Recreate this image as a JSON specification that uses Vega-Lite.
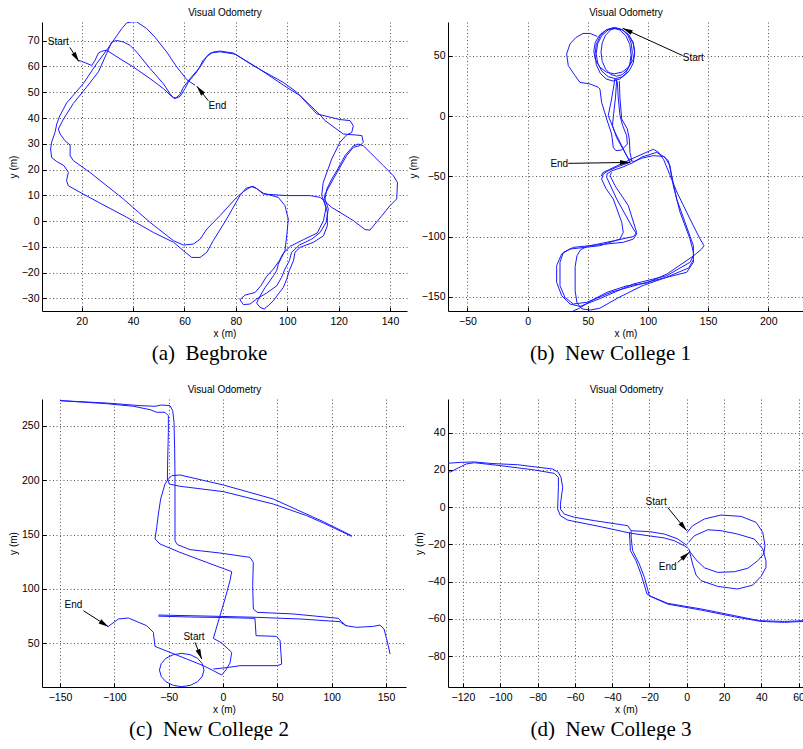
{
"$schema":"https://vega.github.io/schema/vega-lite/v6.json",
"background":"white",
"padding":{"left":8,"top":7,"right":0,"bottom":0},
"config":{
"font":"Liberation Sans",
"view":{"stroke":null},
"axis":{"labelFont":"Liberation Sans","labelFontSize":10.5,"labelColor":"#000","titleFont":"Liberation Sans","titleFontSize":10,"titleFontWeight":"normal","titleColor":"#000","domainColor":"#000","tickColor":"#000","tickSize":-4,"gridColor":"#555","gridDash":[1,2.5],"gridOpacity":1,"gridWidth":1},
"axisX":{"labelPadding":9,"titlePadding":2},
"axisY":{"labelPadding":7,"titlePadding":3},
"title":{"font":"Liberation Serif","fontSize":21,"fontWeight":"normal","color":"#000","frame":"group","dx":-15}
},
"datasets":{
"a_path":[
{"s":1,"x":18.7,"y":62.4},{"s":1,"x":20,"y":62},{"s":1,"x":23.9,"y":60.4},{"s":1,"x":25.2,"y":62.4},{"s":1,"x":26.5,"y":65.2},{"s":1,"x":27.8,"y":65.9},{"s":1,"x":29.7,"y":66.3},{"s":1,"x":34.9,"y":63},{"s":1,"x":40.1,"y":59.8},{"s":1,"x":46.6,"y":55.3},{"s":1,"x":51.8,"y":51.4},{"s":1,"x":55,"y":48.4},{"s":1,"x":56.3,"y":47.5},{"s":1,"x":58.3,"y":49.2},{"s":1,"x":59.6,"y":52},{"s":1,"x":62.2,"y":55.3},{"s":1,"x":66.1,"y":59.8},{"s":1,"x":68.7,"y":63.9},{"s":1,"x":71.2,"y":65.6},{"s":1,"x":73.8,"y":66},{"s":1,"x":79,"y":65.2},{"s":1,"x":86.8,"y":60.3},{"s":1,"x":98.5,"y":53.8},{"s":1,"x":103.7,"y":50},{"s":1,"x":111.5,"y":41.6},{"s":1,"x":120.5,"y":39.4},{"s":1,"x":124.4,"y":39},{"s":1,"x":125.7,"y":37},{"s":1,"x":125.1,"y":34.4},{"s":1,"x":123.1,"y":33.4},{"s":1,"x":120.5,"y":30.6},{"s":1,"x":117.3,"y":24.1},{"s":1,"x":114,"y":15},{"s":1,"x":113.4,"y":9.9},{"s":1,"x":115.1,"y":5.3},{"s":1,"x":114.1,"y":0.2},{"s":1,"x":111.7,"y":-4.6},{"s":1,"x":106.3,"y":-7.2},{"s":1,"x":101.1,"y":-9.8},{"s":1,"x":98.2,"y":-12.8},{"s":1,"x":96.9,"y":-15.4},{"s":1,"x":94.6,"y":-18.6},{"s":1,"x":92,"y":-21.4},{"s":1,"x":89.7,"y":-25.1},{"s":1,"x":87.5,"y":-27.7},{"s":1,"x":83.6,"y":-28.7},{"s":1,"x":81.6,"y":-30.5},{"s":1,"x":82.9,"y":-32.4},{"s":1,"x":85.5,"y":-32.2},{"s":1,"x":88.1,"y":-30.2},{"s":1,"x":92,"y":-27.9},{"s":1,"x":95.9,"y":-25.1},{"s":1,"x":97.8,"y":-21.8},{"s":1,"x":99.1,"y":-18.6},{"s":1,"x":100.8,"y":-15.4},{"s":1,"x":101.7,"y":-12.1},{"s":1,"x":104.7,"y":-9.3},{"s":1,"x":109.5,"y":-7},{"s":1,"x":112.8,"y":-4.4},{"s":1,"x":115.1,"y":-0.5},{"s":1,"x":116,"y":4.7},{"s":1,"x":114.7,"y":8.6},{"s":1,"x":115.4,"y":12.4},{"s":1,"x":117.3,"y":16.3},{"s":1,"x":119.3,"y":19.6},{"s":1,"x":122.5,"y":25.4},{"s":1,"x":125.7,"y":29.2},{"s":1,"x":127.7,"y":29.9},{"s":1,"x":129.6,"y":29.2},{"s":1,"x":132.2,"y":26.7},{"s":1,"x":137.4,"y":21.5},{"s":1,"x":141.3,"y":17.6},{"s":1,"x":142.9,"y":15},{"s":1,"x":142.6,"y":8.6},{"s":1,"x":140,"y":6},{"s":1,"x":136.8,"y":2.1},{"s":1,"x":132.2,"y":-3.5},{"s":1,"x":130.3,"y":-3.3},{"s":1,"x":125.7,"y":0.2},{"s":1,"x":120.5,"y":3.4},{"s":1,"x":117.3,"y":5.3},{"s":1,"x":112.8,"y":9.2},{"s":1,"x":108.9,"y":9.9},{"s":1,"x":99.8,"y":9.9},{"s":1,"x":90.7,"y":10.5},{"s":1,"x":88.5,"y":12.3},{"s":1,"x":86.8,"y":13.5},{"s":1,"x":84,"y":12.8},{"s":1,"x":81.6,"y":9.9},{"s":1,"x":76.4,"y":0.8},{"s":1,"x":71.2,"y":-7.6},{"s":1,"x":68.7,"y":-12.1},{"s":1,"x":66.1,"y":-14.1},{"s":1,"x":62.8,"y":-14.1},{"s":1,"x":59.6,"y":-11.5},{"s":1,"x":55.7,"y":-8.2},{"s":1,"x":47.9,"y":-4.4},{"s":1,"x":37.5,"y":1.5},{"s":1,"x":27.1,"y":7},{"s":1,"x":19.3,"y":11.2},{"s":1,"x":14.8,"y":13.7},{"s":1,"x":14.1,"y":15.7},{"s":1,"x":14.8,"y":18.9},{"s":1,"x":13.1,"y":21.5},{"s":1,"x":10.3,"y":23.1},{"s":1,"x":8.3,"y":24.7},{"s":1,"x":7.9,"y":28},{"s":1,"x":8.3,"y":30.6},{"s":1,"x":9.6,"y":34.4},{"s":1,"x":10.3,"y":37.7},{"s":1,"x":11.5,"y":40.9},{"s":1,"x":12.9,"y":43.5},{"s":1,"x":14.1,"y":45.8},{"s":1,"x":20.6,"y":53.3},{"s":1,"x":25.8,"y":61.1},{"s":1,"x":29.7,"y":66.3},{"s":1,"x":35.6,"y":74.7},{"s":1,"x":37.5,"y":76.9},{"s":1,"x":39.5,"y":77.3},{"s":1,"x":41.4,"y":77.3},{"s":1,"x":45.3,"y":74.7},{"s":1,"x":48.5,"y":71.4},{"s":1,"x":53.1,"y":65.6},{"s":1,"x":57,"y":59.8},{"s":1,"x":60.9,"y":54.9},{"s":1,"x":64.1,"y":52.7},
{"s":2,"x":70,"y":65.2},{"s":2,"x":73.8,"y":65.7},{"s":2,"x":79.7,"y":64.8},{"s":2,"x":88.1,"y":59.7},{"s":2,"x":99.8,"y":51.9},{"s":2,"x":105,"y":48.7},{"s":2,"x":112.8,"y":41.2},{"s":2,"x":114.7,"y":39},{"s":2,"x":121.8,"y":33.8},{"s":2,"x":129,"y":33.2},{"s":2,"x":129.6,"y":30.6},{"s":2,"x":128.3,"y":29.3},{"s":2,"x":125.7,"y":28.6},{"s":2,"x":123.1,"y":25.4},{"s":2,"x":117.9,"y":16.3},{"s":2,"x":114.7,"y":10.5},{"s":2,"x":114.3,"y":7.9},{"s":2,"x":115.6,"y":3.4},{"s":2,"x":115.6,"y":-1.8},{"s":2,"x":114.1,"y":-5.7},{"s":2,"x":110.2,"y":-8.2},{"s":2,"x":105,"y":-10.2},{"s":2,"x":103,"y":-12.1},{"s":2,"x":102.4,"y":-15.4},{"s":2,"x":100.8,"y":-19.2},{"s":2,"x":99.8,"y":-22.5},{"s":2,"x":98.5,"y":-25.7},{"s":2,"x":96.5,"y":-28.3},{"s":2,"x":94.6,"y":-30.9},{"s":2,"x":92.6,"y":-32.8},{"s":2,"x":91,"y":-34.1},{"s":2,"x":89.4,"y":-33.5},{"s":2,"x":88.1,"y":-31.8},{"s":2,"x":88.8,"y":-30.2},{"s":2,"x":90.1,"y":-27.9},{"s":2,"x":91.4,"y":-25.7},{"s":2,"x":93.3,"y":-23.1},{"s":2,"x":94.6,"y":-21.2},{"s":2,"x":95.9,"y":-19.2},{"s":2,"x":96.5,"y":-16.7},{"s":2,"x":97.8,"y":-14.1},{"s":2,"x":99.1,"y":-11.5},{"s":2,"x":99.8,"y":-5.7},{"s":2,"x":100.4,"y":0.8},{"s":2,"x":99.1,"y":6},{"s":2,"x":96.5,"y":9.2},{"s":2,"x":90.7,"y":10.8},{"s":2,"x":88.1,"y":12.6},{"s":2,"x":86,"y":13.4},{"s":2,"x":83,"y":11.5},{"s":2,"x":80.3,"y":9.2},{"s":2,"x":73.8,"y":2.1},{"s":2,"x":68.7,"y":-3.1},{"s":2,"x":66.1,"y":-7},{"s":2,"x":63.5,"y":-8.9},{"s":2,"x":59.6,"y":-9.3},{"s":2,"x":55.7,"y":-7.6},{"s":2,"x":46.6,"y":-0.5},{"s":2,"x":36.2,"y":8.6},{"s":2,"x":23.2,"y":18.9},{"s":2,"x":16.7,"y":23.5},{"s":2,"x":15.5,"y":25.4},{"s":2,"x":15.5,"y":29.5},{"s":2,"x":13.5,"y":31.2},{"s":2,"x":11.6,"y":33.8},{"s":2,"x":10.9,"y":35.7},{"s":2,"x":12.9,"y":39.6},{"s":2,"x":15.4,"y":43.5},{"s":2,"x":16.7,"y":45.6},{"s":2,"x":21.9,"y":52},{"s":2,"x":26.5,"y":57.9},{"s":2,"x":29.7,"y":65},{"s":2,"x":31.7,"y":69.5},{"s":2,"x":33.6,"y":70.1},{"s":2,"x":36.2,"y":69.5},{"s":2,"x":38.8,"y":68.2},{"s":2,"x":41.4,"y":65.6},{"s":2,"x":46.6,"y":59.2},{"s":2,"x":51.8,"y":53.3},{"s":2,"x":54.4,"y":49.4},{"s":2,"x":55.7,"y":47.9},{"s":2,"x":57,"y":47.8},{"s":2,"x":58.3,"y":48.4},{"s":2,"x":60.2,"y":51.4},{"s":2,"x":61.5,"y":54},{"s":2,"x":64.8,"y":57.9},{"s":2,"x":67.3,"y":62.4},{"s":2,"x":70,"y":65.2}
],
"b_path":[
{"s":1,"x":89,"y":52},{"s":1,"x":87.8,"y":60},{"s":1,"x":84.3,"y":66.8},{"s":1,"x":79.1,"y":71.4},{"s":1,"x":73,"y":73},{"s":1,"x":66.9,"y":71.4},{"s":1,"x":61.7,"y":66.8},{"s":1,"x":58.2,"y":60},{"s":1,"x":57,"y":52},{"s":1,"x":58.2,"y":44},{"s":1,"x":61.7,"y":37.2},{"s":1,"x":66.9,"y":32.6},{"s":1,"x":73,"y":31},{"s":1,"x":79.1,"y":32.6},{"s":1,"x":84.3,"y":37.2},{"s":1,"x":87.8,"y":44},{"s":1,"x":89,"y":52},
{"s":2,"x":87,"y":53},{"s":2,"x":86,"y":60.7},{"s":2,"x":83.2,"y":67.1},{"s":2,"x":79,"y":71.5},{"s":2,"x":74,"y":73},{"s":2,"x":69,"y":71.5},{"s":2,"x":64.8,"y":67.1},{"s":2,"x":62,"y":60.7},{"s":2,"x":61,"y":53},{"s":2,"x":62,"y":45.3},{"s":2,"x":64.8,"y":38.9},{"s":2,"x":69,"y":34.5},{"s":2,"x":74,"y":33},{"s":2,"x":79,"y":34.5},{"s":2,"x":83.2,"y":38.9},{"s":2,"x":86,"y":45.3},{"s":2,"x":87,"y":53},
{"s":3,"x":89,"y":54},{"s":3,"x":87.7,"y":61.3},{"s":3,"x":84,"y":67.4},{"s":3,"x":78.5,"y":71.6},{"s":3,"x":72,"y":73.5},{"s":3,"x":65.5,"y":71.6},{"s":3,"x":60,"y":67.4},{"s":3,"x":56.3,"y":61.3},{"s":3,"x":55,"y":54},{"s":3,"x":56.3,"y":46.7},{"s":3,"x":60,"y":40.6},{"s":3,"x":65.5,"y":36.4},{"s":3,"x":72,"y":35},{"s":3,"x":78.5,"y":36.4},{"s":3,"x":84,"y":40.6},{"s":3,"x":87.7,"y":46.7},{"s":3,"x":89,"y":54},
{"s":4,"x":86,"y":51},{"s":4,"x":84.9,"y":59.4},{"s":4,"x":81.6,"y":66.6},{"s":4,"x":76.7,"y":71.3},{"s":4,"x":71,"y":73},{"s":4,"x":65.3,"y":71.3},{"s":4,"x":60.4,"y":66.6},{"s":4,"x":57.1,"y":59.4},{"s":4,"x":56,"y":51},{"s":4,"x":57.1,"y":42.6},{"s":4,"x":60.4,"y":35.4},{"s":4,"x":65.3,"y":30.7},{"s":4,"x":71,"y":29},{"s":4,"x":76.7,"y":30.7},{"s":4,"x":81.6,"y":35.4},{"s":4,"x":84.9,"y":42.6},{"s":4,"x":86,"y":51},
{"s":5,"x":58,"y":66},{"s":5,"x":52,"y":68.5},{"s":5,"x":46,"y":68.5},{"s":5,"x":40,"y":65},{"s":5,"x":35.2,"y":59.8},{"s":5,"x":32.4,"y":51.5},{"s":5,"x":33.8,"y":41.8},{"s":5,"x":39.4,"y":33.5},{"s":5,"x":43.5,"y":27.9},{"s":5,"x":51.8,"y":26.6},{"s":5,"x":58.8,"y":23.8},{"s":5,"x":60.1,"y":22.4},{"s":5,"x":61.5,"y":11.3},{"s":5,"x":65.7,"y":-2.5},{"s":5,"x":69.8,"y":-14.9},{"s":5,"x":71.2,"y":-26},{"s":5,"x":73.4,"y":-28.8},{"s":5,"x":78.2,"y":-28.2},{"s":5,"x":82.9,"y":-23.2},{"s":5,"x":82.3,"y":-16.3},{"s":5,"x":79,"y":-8},{"s":5,"x":76.8,"y":0.3},{"s":5,"x":75.4,"y":14.1},{"s":5,"x":74.6,"y":27.9},{"s":5,"x":73,"y":31},
{"s":6,"x":76.2,"y":29},{"s":6,"x":76.8,"y":14.1},{"s":6,"x":78.2,"y":-2.5},{"s":6,"x":82.9,"y":-10.8},{"s":6,"x":84.5,"y":-19.1},{"s":6,"x":85.1,"y":-30.2},{"s":6,"x":86.5,"y":-37.1},{"s":6,"x":85.1,"y":-38.5},
{"s":7,"x":72.6,"y":31},{"s":7,"x":69.8,"y":14.1},{"s":7,"x":67,"y":0.3},{"s":7,"x":72.6,"y":-13.5},{"s":7,"x":78.2,"y":-24.6},{"s":7,"x":82.3,"y":-32.9},{"s":7,"x":85.1,"y":-38.5},
{"s":8,"x":74,"y":30},{"s":8,"x":73,"y":15},{"s":8,"x":71.5,"y":2},{"s":8,"x":70.5,"y":-8},{"s":8,"x":74,"y":-18},{"s":8,"x":79,"y":-27},{"s":8,"x":83.5,"y":-35},{"s":8,"x":88,"y":-38},
{"s":9,"x":85.1,"y":-38.5},{"s":9,"x":75,"y":-42},{"s":9,"x":67,"y":-45.5},{"s":9,"x":62.9,"y":-48.1},{"s":9,"x":61.5,"y":-52.3},{"s":9,"x":65,"y":-60},{"s":9,"x":71.2,"y":-68.9},{"s":9,"x":78.2,"y":-88.2},{"s":9,"x":79.5,"y":-96.5},{"s":9,"x":76.8,"y":-102.1},{"s":9,"x":60.1,"y":-107.6},{"s":9,"x":35.2,"y":-110.4},{"s":9,"x":28.3,"y":-114.5},{"s":9,"x":24.1,"y":-124.2},{"s":9,"x":24.1,"y":-138},{"s":9,"x":28.3,"y":-149.1},{"s":9,"x":35.2,"y":-156},{"s":9,"x":43.5,"y":-158},{"s":9,"x":60,"y":-151.5},{"s":9,"x":87.9,"y":-139.4},{"s":9,"x":115.6,"y":-132.5},{"s":9,"x":135,"y":-121.4},{"s":9,"x":137.8,"y":-115.9},{"s":9,"x":137.8,"y":-107.6},{"s":9,"x":123.9,"y":-68.9},{"s":9,"x":119.7,"y":-49.5},{"s":9,"x":117,"y":-37.1},{"s":9,"x":112.8,"y":-33.5},{"s":9,"x":104.5,"y":-32.9},{"s":9,"x":95,"y":-35},{"s":9,"x":87.9,"y":-37.9},
{"s":10,"x":87.9,"y":-38.5},{"s":10,"x":80,"y":-42},{"s":10,"x":70,"y":-45.5},{"s":10,"x":66,"y":-48},{"s":10,"x":65.7,"y":-50.9},{"s":10,"x":74,"y":-68.9},{"s":10,"x":87.9,"y":-93.8},{"s":10,"x":90.6,"y":-97.9},{"s":10,"x":87.9,"y":-102.1},{"s":10,"x":79.5,"y":-104.8},{"s":10,"x":38,"y":-109},{"s":10,"x":29.7,"y":-113.1},{"s":10,"x":26.9,"y":-121.4},{"s":10,"x":26.9,"y":-140.8},{"s":10,"x":31,"y":-150.5},{"s":10,"x":38,"y":-156},{"s":10,"x":49.1,"y":-154.6},{"s":10,"x":70,"y":-146},{"s":10,"x":98.9,"y":-138},{"s":10,"x":132.2,"y":-129.7},{"s":10,"x":137.8,"y":-121.4},{"s":10,"x":137.8,"y":-113.1},{"s":10,"x":135,"y":-102.1},{"s":10,"x":126.7,"y":-79.9},{"s":10,"x":121.1,"y":-57.8},{"s":10,"x":118.3,"y":-41.2},{"s":10,"x":114.2,"y":-34.3},{"s":10,"x":107.3,"y":-30.2},{"s":10,"x":95,"y":-34},{"s":10,"x":87.9,"y":-38.5},
{"s":11,"x":61,"y":-50},{"s":11,"x":62.5,"y":-47},{"s":11,"x":75,"y":-41},{"s":11,"x":90,"y":-34},{"s":11,"x":104.5,"y":-27.6},{"s":11,"x":108.7,"y":-30},{"s":11,"x":113,"y":-36},{"s":11,"x":124,"y":-63},{"s":11,"x":135,"y":-85.5},{"s":11,"x":143.3,"y":-102},{"s":11,"x":146.6,"y":-107.6},{"s":11,"x":144.6,"y":-110.4},{"s":11,"x":138,"y":-116},{"s":11,"x":116,"y":-131},{"s":11,"x":99,"y":-138.6},{"s":11,"x":82,"y":-141},{"s":11,"x":66,"y":-146.3},{"s":11,"x":55,"y":-152},{"s":11,"x":47,"y":-157},{"s":11,"x":42,"y":-160},{"s":11,"x":38,"y":-161.6},
{"s":12,"x":69.8,"y":-46.8},{"s":12,"x":68.5,"y":-49.5},{"s":12,"x":72.6,"y":-57.8},{"s":12,"x":83.7,"y":-74.4},{"s":12,"x":90.6,"y":-96.6},{"s":12,"x":88,"y":-100},{"s":12,"x":72,"y":-103.5},{"s":12,"x":50,"y":-108},{"s":12,"x":44,"y":-111},{"s":12,"x":41,"y":-116},{"s":12,"x":39.5,"y":-125},{"s":12,"x":39.5,"y":-145},{"s":12,"x":41,"y":-155},{"s":12,"x":45,"y":-160},{"s":12,"x":52,"y":-161},{"s":12,"x":60,"y":-159.5},{"s":12,"x":75,"y":-151},{"s":12,"x":95,"y":-141},{"s":12,"x":115,"y":-134},{"s":12,"x":134,"y":-126},{"s":12,"x":138,"y":-119}
],
"c_path":[
{"s":1,"x":-150,"y":273},{"s":1,"x":-107.1,"y":270.8},{"s":1,"x":-76.4,"y":268.4},{"s":1,"x":-62.6,"y":267.8},{"s":1,"x":-56.4,"y":269},{"s":1,"x":-48.8,"y":268.4},{"s":1,"x":-46.3,"y":263.8},{"s":1,"x":-45.1,"y":253.1},{"s":1,"x":-44.5,"y":228.6},{"s":1,"x":-44.2,"y":204.1},{"s":1,"x":-44.2,"y":173.4},{"s":1,"x":-44.2,"y":144.3},{"s":1,"x":-42,"y":140.7},{"s":1,"x":-30.4,"y":136.1},{"s":1,"x":-2.8,"y":133},{"s":1,"x":24.8,"y":129},{"s":1,"x":27.9,"y":124.4},{"s":1,"x":27.3,"y":103},{"s":1,"x":27.9,"y":81.5},{"s":1,"x":31.6,"y":78.5},{"s":1,"x":64.7,"y":77},{"s":1,"x":106.1,"y":73},{"s":1,"x":109.2,"y":69.9},{"s":1,"x":113.2,"y":66.2},{"s":1,"x":123,"y":64.7},{"s":1,"x":138.3,"y":65.6},{"s":1,"x":144.5,"y":66.8},{"s":1,"x":148.2,"y":63.2},{"s":1,"x":152.1,"y":47.9},{"s":1,"x":153.7,"y":40.2},
{"s":2,"x":-150,"y":273},{"s":2,"x":-107.1,"y":270.2},{"s":2,"x":-82.5,"y":267.8},{"s":2,"x":-67.2,"y":264.7},{"s":2,"x":-61,"y":262.3},{"s":2,"x":-53.4,"y":262.3},{"s":2,"x":-50.3,"y":259.2},{"s":2,"x":-50.3,"y":243.9},{"s":2,"x":-50.9,"y":219.4},{"s":2,"x":-51.2,"y":201},{"s":2,"x":-49.4,"y":196.4},{"s":2,"x":-39.6,"y":194.3},{"s":2,"x":0.3,"y":189.4},{"s":2,"x":46.3,"y":178},{"s":2,"x":77,"y":167.3},{"s":2,"x":92.3,"y":160.6},{"s":2,"x":118.4,"y":148.3},
{"s":3,"x":118.4,"y":148.9},{"s":3,"x":92.3,"y":161.8},{"s":3,"x":46.3,"y":182.6},{"s":3,"x":0.3,"y":195.5},{"s":3,"x":-39.6,"y":204.7},{"s":3,"x":-47.2,"y":204.1},{"s":3,"x":-50.3,"y":201},{"s":3,"x":-53.4,"y":196.4},{"s":3,"x":-57.4,"y":182.6},{"s":3,"x":-59.5,"y":168.8},{"s":3,"x":-61,"y":156.6},{"s":3,"x":-62.6,"y":145.9},{"s":3,"x":-58,"y":141.3},{"s":3,"x":-39.6,"y":133.6},{"s":3,"x":-15,"y":124.4},{"s":3,"x":8,"y":115.9},{"s":3,"x":6.4,"y":107.6},{"s":3,"x":1.8,"y":90.7},{"s":3,"x":-2.8,"y":75.4},{"s":3,"x":-8.9,"y":54.6},{"s":3,"x":-1.2,"y":50.3},{"s":3,"x":8,"y":41.7},{"s":3,"x":6.4,"y":31.9},{"s":3,"x":2.8,"y":25.8},{"s":3,"x":-1.2,"y":20.9},{"s":3,"x":-8.9,"y":24.9},{"s":3,"x":-18.1,"y":29.5},{"s":3,"x":-33.4,"y":35.6},{"s":3,"x":-62.6,"y":47.2},{"s":3,"x":-64.1,"y":60.1},{"s":3,"x":-70.2,"y":66.2},{"s":3,"x":-87.1,"y":73.3},{"s":3,"x":-96.3,"y":72.4},{"s":3,"x":-105.5,"y":65.6},
{"s":4,"x":-59.5,"y":76},{"s":4,"x":-30.4,"y":75.4},{"s":4,"x":-2.8,"y":74.8},{"s":4,"x":31,"y":73.9},{"s":4,"x":70.9,"y":72.4},{"s":4,"x":107.7,"y":69.9},{"s":4,"x":111,"y":67.5},{"s":4,"x":114,"y":66},
{"s":5,"x":-59.5,"y":75},{"s":5,"x":-30,"y":74.2},{"s":5,"x":0,"y":73.7},{"s":5,"x":29.4,"y":73},{"s":5,"x":30.4,"y":57.1},{"s":5,"x":49.4,"y":56.4},{"s":5,"x":52.5,"y":52.5},{"s":5,"x":54,"y":31},{"s":5,"x":50,"y":29.5},{"s":5,"x":15.6,"y":29.5},{"s":5,"x":4.9,"y":27.9},{"s":5,"x":-8.9,"y":26.4},
{"s":6,"x":-19.1,"y":31.4},{"s":6,"x":-23.5,"y":36.3},{"s":6,"x":-30.2,"y":39.6},{"s":6,"x":-38,"y":40.8},{"s":6,"x":-45.8,"y":39.6},{"s":6,"x":-52.5,"y":36.3},{"s":6,"x":-56.9,"y":31.4},{"s":6,"x":-58.5,"y":25.5},{"s":6,"x":-56.9,"y":19.6},{"s":6,"x":-52.5,"y":14.7},{"s":6,"x":-45.8,"y":11.4},{"s":6,"x":-38,"y":10.2},{"s":6,"x":-30.2,"y":11.4},{"s":6,"x":-23.5,"y":14.7},{"s":6,"x":-19.1,"y":19.6},{"s":6,"x":-17.5,"y":25.5},{"s":6,"x":-19.1,"y":31.4}
],
"d_path":[
{"s":1,"x":-129.4,"y":23.4},{"s":1,"x":-121,"y":24},{"s":1,"x":-113.9,"y":24.2},{"s":1,"x":-104.9,"y":23.4},{"s":1,"x":-90.6,"y":22.7},{"s":1,"x":-81.7,"y":21.6},{"s":1,"x":-71.9,"y":20.4},{"s":1,"x":-68.8,"y":18.6},{"s":1,"x":-67.4,"y":15.9},{"s":1,"x":-66.5,"y":10.6},{"s":1,"x":-67.7,"y":1.6},{"s":1,"x":-67.7,"y":-1.1},{"s":1,"x":-65.6,"y":-3.8},{"s":1,"x":-60.2,"y":-5.5},{"s":1,"x":-49.5,"y":-7.3},{"s":1,"x":-31.6,"y":-10},{"s":1,"x":-29.8,"y":-12.7},{"s":1,"x":-29.8,"y":-16.3},{"s":1,"x":-29,"y":-23.4},{"s":1,"x":-25.4,"y":-30.6},{"s":1,"x":-22.7,"y":-37.7},{"s":1,"x":-20,"y":-47.6},{"s":1,"x":-10.2,"y":-51.7},{"s":1,"x":7.7,"y":-54.7},{"s":1,"x":25.6,"y":-58.3},{"s":1,"x":39,"y":-61},{"s":1,"x":52.4,"y":-61.4},{"s":1,"x":62.7,"y":-61},
{"s":2,"x":-129.4,"y":19.5},{"s":2,"x":-126.7,"y":18.8},{"s":2,"x":-123.7,"y":20.4},{"s":2,"x":-118.3,"y":23.1},{"s":2,"x":-113.9,"y":23.8},{"s":2,"x":-99.6,"y":22.2},{"s":2,"x":-81.7,"y":19.9},{"s":2,"x":-71,"y":18.1},{"s":2,"x":-68.8,"y":15.9},{"s":2,"x":-68.8,"y":10.6},{"s":2,"x":-69.2,"y":-1.1},{"s":2,"x":-67.7,"y":-4.7},{"s":2,"x":-63.8,"y":-7},{"s":2,"x":-45.9,"y":-10.6},{"s":2,"x":-29.8,"y":-14.1},{"s":2,"x":-12,"y":-16.6},{"s":2,"x":-6.6,"y":-18.1},{"s":2,"x":-1.3,"y":-20.8},{"s":2,"x":0.5,"y":-22},
{"s":3,"x":-30.7,"y":-13.6},{"s":3,"x":-30.2,"y":-23.4},{"s":3,"x":-27.2,"y":-28.8},{"s":3,"x":-24.5,"y":-36},{"s":3,"x":-21.3,"y":-46.7},{"s":3,"x":-19.1,"y":-48.1},{"s":3,"x":-10.2,"y":-52.1},{"s":3,"x":7.7,"y":-55.3},{"s":3,"x":25.6,"y":-58.9},{"s":3,"x":39.9,"y":-61.4},{"s":3,"x":52.4,"y":-61.9},{"s":3,"x":62.7,"y":-61.4},
{"s":4,"x":-29.8,"y":-12.7},{"s":4,"x":-20,"y":-13.2},{"s":4,"x":-12,"y":-14.5},{"s":4,"x":-5,"y":-17},{"s":4,"x":0,"y":-20.5},
{"s":5,"x":0.2,"y":-13.6},{"s":5,"x":3.2,"y":-10},{"s":5,"x":9.5,"y":-6.4},{"s":5,"x":18.4,"y":-4.3},{"s":5,"x":29.1,"y":-5},{"s":5,"x":37.2,"y":-8.2},{"s":5,"x":40.8,"y":-13.6},{"s":5,"x":42,"y":-20.8},{"s":5,"x":41.3,"y":-25.2},{"s":5,"x":38.1,"y":-28.8},{"s":5,"x":32.7,"y":-32.9},{"s":5,"x":25.6,"y":-34.7},{"s":5,"x":16.6,"y":-35.1},{"s":5,"x":9.5,"y":-32.6},{"s":5,"x":5,"y":-28.3},{"s":5,"x":2,"y":-24.3},{"s":5,"x":0.9,"y":-22.2},
{"s":6,"x":0.9,"y":-19},{"s":6,"x":4.1,"y":-15.4},{"s":6,"x":11.3,"y":-12.2},{"s":6,"x":18.4,"y":-12.7},{"s":6,"x":27.3,"y":-14.5},{"s":6,"x":36.3,"y":-17.2},{"s":6,"x":40.8,"y":-22.5},{"s":6,"x":42.5,"y":-28.8},{"s":6,"x":42.5,"y":-32.4},{"s":6,"x":39.9,"y":-37.2},{"s":6,"x":35.4,"y":-41.9},{"s":6,"x":27.3,"y":-44},{"s":6,"x":16.6,"y":-42.6},{"s":6,"x":7.7,"y":-39.5},{"s":6,"x":5,"y":-36.5},{"s":6,"x":3.2,"y":-30.6},{"s":6,"x":1.4,"y":-23.4}
],
"a_arr":[{"x":15.4,"y":67.4,"x2":18.9,"y2":61.9},{"x":69.3,"y":46.7,"x2":64.8,"y2":52.3}],
"a_txt":[{"x":10.9,"y":69.4,"t":"Start"},{"x":72.8,"y":44.5,"t":"End"}],
"b_arr":[{"x":128.9,"y":50.1,"x2":79,"y2":72.8},{"x":33.8,"y":-39.3,"x2":85.1,"y2":-38.5}],
"b_txt":[{"x":137.7,"y":47.9,"t":"Start"},{"x":26.3,"y":-39.8,"t":"End"}],
"c_arr":[{"x":-128.5,"y":80,"x2":-105.5,"y2":65.3},{"x":-25.8,"y":50.9,"x2":-19.6,"y2":35.6}],
"c_txt":[{"x":-137.7,"y":85.2,"t":"End"},{"x":-26.7,"y":56.1,"t":"Start"}],
"d_arr":[{"x":-10.2,"y":-0.2,"x2":0,"y2":-12.7},{"x":-4.8,"y":-29.7,"x2":1.4,"y2":-24.3}],
"d_txt":[{"x":-16.4,"y":2.5,"t":"Start"},{"x":-10.2,"y":-32.4,"t":"End"}]
},
"columns":2,
"align":"none",
"bounds":"flush",
"spacing":{"row":88,"column":41},
"concat":[
{"width":365,"height":289,
"title":{"text":"(a)\u00a0\u00a0Begbroke","orient":"bottom","offset":4},
"resolve":{"axis":{"x":"independent","y":"independent"}},
"layer":[
{"data":{"name":"a_path"},"mark":{"type":"line","color":"#1a1aff","strokeWidth":1,"clip":true},
"encoding":{"x":{"field":"x","type":"quantitative","scale":{"domain":[4.55,146.6],"nice":false,"zero":false},"axis":{"orient":"bottom","title":"x (m)","grid":true,"values":[20,40,60,80,100,120,140]}},
"y":{"field":"y","type":"quantitative","scale":{"domain":[-34.89,77.26],"nice":false,"zero":false},"axis":{"orient":"left","title":"y (m)","grid":true,"values":[-30,-20,-10,0,10,20,30,40,50,60,70]}},
"detail":{"field":"s"},"order":{"value":null}}},
{"data":{"name":"a_arr"},"mark":{"type":"rule","color":"#000","strokeWidth":1},
"encoding":{"x":{"field":"x","type":"quantitative","axis":{"orient":"top","title":"Visual Odometry","labels":false,"ticks":false,"domain":false,"grid":false,"titlePadding":5}},"y":{"field":"y","type":"quantitative","axis":null},"x2":{"field":"x2"},"y2":{"field":"y2"}}},
{"data":{"name":"a_arr"},"transform":[{"calculate":"atan2(datum.x2-datum.x,datum.y2-datum.y)*180/PI","as":"ang"}],"mark":{"type":"point","shape":"M0,0L-0.5,2L0.5,2Z","filled":true,"color":"#000","opacity":1,"size":100},
"encoding":{"x":{"field":"x2","type":"quantitative","axis":null},"y":{"field":"y2","type":"quantitative","axis":null},"angle":{"field":"ang","type":"quantitative","scale":null}}},
{"data":{"name":"a_txt"},"mark":{"type":"text","fontSize":10,"color":"#000"},
"encoding":{"x":{"field":"x","type":"quantitative","axis":null},"y":{"field":"y","type":"quantitative","axis":null},"text":{"field":"t"}}}
]},
{"width":355,"height":289,
"title":{"text":"(b)\u00a0\u00a0New College 1","orient":"bottom","offset":4},
"resolve":{"axis":{"x":"independent","y":"independent"}},
"layer":[
{"data":{"name":"b_path"},"mark":{"type":"line","color":"#1a1aff","strokeWidth":1,"clip":true},
"encoding":{"x":{"field":"x","type":"quantitative","scale":{"domain":[-66.2,228.9],"nice":false,"zero":false},"axis":{"orient":"bottom","title":"x (m)","grid":true,"values":[-50,0,50,100,150,200]}},
"y":{"field":"y","type":"quantitative","scale":{"domain":[-161.8,78],"nice":false,"zero":false},"axis":{"orient":"left","title":"y (m)","grid":true,"values":[-150,-100,-50,0,50]}},
"detail":{"field":"s"},"order":{"value":null}}},
{"data":{"name":"b_arr"},"mark":{"type":"rule","color":"#000","strokeWidth":1},
"encoding":{"x":{"field":"x","type":"quantitative","axis":{"orient":"top","title":"Visual Odometry","labels":false,"ticks":false,"domain":false,"grid":false,"titlePadding":5}},"y":{"field":"y","type":"quantitative","axis":null},"x2":{"field":"x2"},"y2":{"field":"y2"}}},
{"data":{"name":"b_arr"},"transform":[{"calculate":"atan2(datum.x2-datum.x,datum.y2-datum.y)*180/PI","as":"ang"}],"mark":{"type":"point","shape":"M0,0L-0.5,2L0.5,2Z","filled":true,"color":"#000","opacity":1,"size":100},
"encoding":{"x":{"field":"x2","type":"quantitative","axis":null},"y":{"field":"y2","type":"quantitative","axis":null},"angle":{"field":"ang","type":"quantitative","scale":null}}},
{"data":{"name":"b_txt"},"mark":{"type":"text","fontSize":10,"color":"#000"},
"encoding":{"x":{"field":"x","type":"quantitative","axis":null},"y":{"field":"y","type":"quantitative","axis":null},"text":{"field":"t"}}}
]},
{"width":364,"height":288,
"title":{"text":"(c)\u00a0\u00a0New College 2","orient":"bottom","offset":4},
"resolve":{"axis":{"x":"independent","y":"independent"}},
"layer":[
{"data":{"name":"c_path"},"mark":{"type":"line","color":"#1a1aff","strokeWidth":1,"clip":true},
"encoding":{"x":{"field":"x","type":"quantitative","scale":{"domain":[-166.6,168.4],"nice":false,"zero":false},"axis":{"orient":"bottom","title":"x (m)","grid":true,"values":[-150,-100,-50,0,50,100,150]}},
"y":{"field":"y","type":"quantitative","scale":{"domain":[9.9,274.5],"nice":false,"zero":false},"axis":{"orient":"left","title":"y (m)","grid":true,"values":[50,100,150,200,250]}},
"detail":{"field":"s"},"order":{"value":null}}},
{"data":{"name":"c_arr"},"mark":{"type":"rule","color":"#000","strokeWidth":1},
"encoding":{"x":{"field":"x","type":"quantitative","axis":{"orient":"top","title":"Visual Odometry","labels":false,"ticks":false,"domain":false,"grid":false,"titlePadding":5}},"y":{"field":"y","type":"quantitative","axis":null},"x2":{"field":"x2"},"y2":{"field":"y2"}}},
{"data":{"name":"c_arr"},"transform":[{"calculate":"atan2(datum.x2-datum.x,datum.y2-datum.y)*180/PI","as":"ang"}],"mark":{"type":"point","shape":"M0,0L-0.5,2L0.5,2Z","filled":true,"color":"#000","opacity":1,"size":100},
"encoding":{"x":{"field":"x2","type":"quantitative","axis":null},"y":{"field":"y2","type":"quantitative","axis":null},"angle":{"field":"ang","type":"quantitative","scale":null}}},
{"data":{"name":"c_txt"},"mark":{"type":"text","fontSize":10,"color":"#000"},
"encoding":{"x":{"field":"x","type":"quantitative","axis":null},"y":{"field":"y","type":"quantitative","axis":null},"text":{"field":"t"}}}
]},
{"width":356,"height":288,
"title":{"text":"(d)\u00a0\u00a0New College 3","orient":"bottom","offset":4},
"resolve":{"axis":{"x":"independent","y":"independent"}},
"layer":[
{"data":{"name":"d_path"},"mark":{"type":"line","color":"#1a1aff","strokeWidth":1,"clip":true},
"encoding":{"x":{"field":"x","type":"quantitative","scale":{"domain":[-128,62.9],"nice":false,"zero":false},"axis":{"orient":"bottom","title":"x (m)","grid":true,"values":[-120,-100,-80,-60,-40,-20,0,20,40,60]}},
"y":{"field":"y","type":"quantitative","scale":{"domain":[-96.6,58],"nice":false,"zero":false},"axis":{"orient":"left","title":"y (m)","grid":true,"values":[-80,-60,-40,-20,0,20,40]}},
"detail":{"field":"s"},"order":{"value":null}}},
{"data":{"name":"d_arr"},"mark":{"type":"rule","color":"#000","strokeWidth":1},
"encoding":{"x":{"field":"x","type":"quantitative","axis":{"orient":"top","title":"Visual Odometry","labels":false,"ticks":false,"domain":false,"grid":false,"titlePadding":5}},"y":{"field":"y","type":"quantitative","axis":null},"x2":{"field":"x2"},"y2":{"field":"y2"}}},
{"data":{"name":"d_arr"},"transform":[{"calculate":"atan2(datum.x2-datum.x,datum.y2-datum.y)*180/PI","as":"ang"}],"mark":{"type":"point","shape":"M0,0L-0.5,2L0.5,2Z","filled":true,"color":"#000","opacity":1,"size":100},
"encoding":{"x":{"field":"x2","type":"quantitative","axis":null},"y":{"field":"y2","type":"quantitative","axis":null},"angle":{"field":"ang","type":"quantitative","scale":null}}},
{"data":{"name":"d_txt"},"mark":{"type":"text","fontSize":10,"color":"#000"},
"encoding":{"x":{"field":"x","type":"quantitative","axis":null},"y":{"field":"y","type":"quantitative","axis":null},"text":{"field":"t"}}}
]}
]
}
